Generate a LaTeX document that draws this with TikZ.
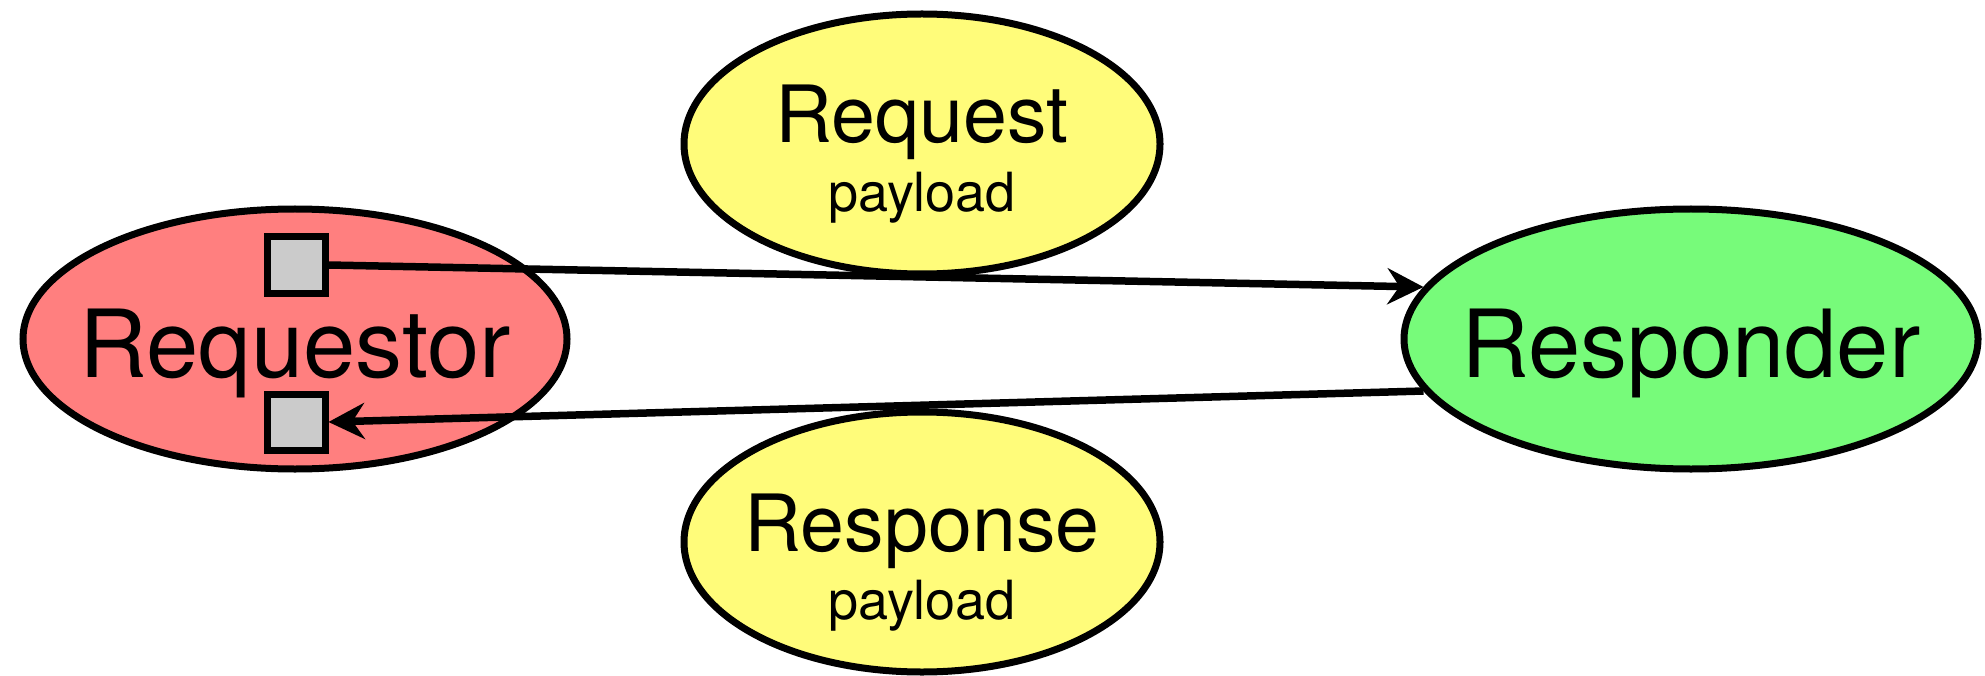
\documentclass[tikz,border=0pt]{standalone}
\usepackage{fontspec}
\setmainfont{TeX Gyre Heros}
\usetikzlibrary{shapes.geometric,arrows.meta}
\definecolor{reqred}{HTML}{FF7F7F}
\definecolor{resgreen}{HTML}{77FB7A}
\definecolor{payyellow}{HTML}{FFFC7A}
\definecolor{portgray}{HTML}{CBCBCB}
\tikzset{
  blob/.style={ellipse, draw=black, line width=7pt, inner sep=0pt},
  port/.style={rectangle, draw=black, fill=portgray, line width=7pt, minimum width=58pt, minimum height=56pt, inner sep=0pt},
  bigtxt/.style={font=\fontsize{94}{100}\selectfont, anchor=base, inner sep=0pt},
  midtxt/.style={font=\fontsize{79}{86}\selectfont, anchor=base, inner sep=0pt},
  smalltxt/.style={font=\fontsize{54}{60}\selectfont, anchor=base, inner sep=0pt},
  conn/.style={line width=7.5pt, -{Stealth[length=36pt, width=36pt, inset=12pt]}}
}
\begin{document}
\begin{tikzpicture}[x=1pt, y=-1pt]
\useasboundingbox (0,0) rectangle (1985,676);
\node[blob, fill=reqred, minimum width=544pt, minimum height=260pt] (req) at (295,339) {};
\node[blob, fill=resgreen, minimum width=574pt, minimum height=260pt] (resp) at (1691,339) {};
\node[blob, fill=payyellow, minimum width=476pt, minimum height=260pt] (rqp) at (922,144) {};
\node[blob, fill=payyellow, minimum width=476pt, minimum height=260pt] (rsp) at (922,542) {};
\node[bigtxt] (reqlbl) at (295,377) {Requestor};
\node[bigtxt] (resplbl) at (1691,377) {Responder};
\node[midtxt] (rqplbl) at (922,143) {Request};
\node[smalltxt] (rqpsub) at (922,212) {payload};
\node[midtxt] (rsplbl) at (922,551) {Response};
\node[smalltxt] (rspsub) at (922,619) {payload};
\node[port] (out) at (296,265) {};
\node[port] (in) at (296,422) {};
\draw[conn] (out.east) -- (resp.169);
\draw[conn] (resp.191.5) -- (in.east);
\end{tikzpicture}
\end{document}
